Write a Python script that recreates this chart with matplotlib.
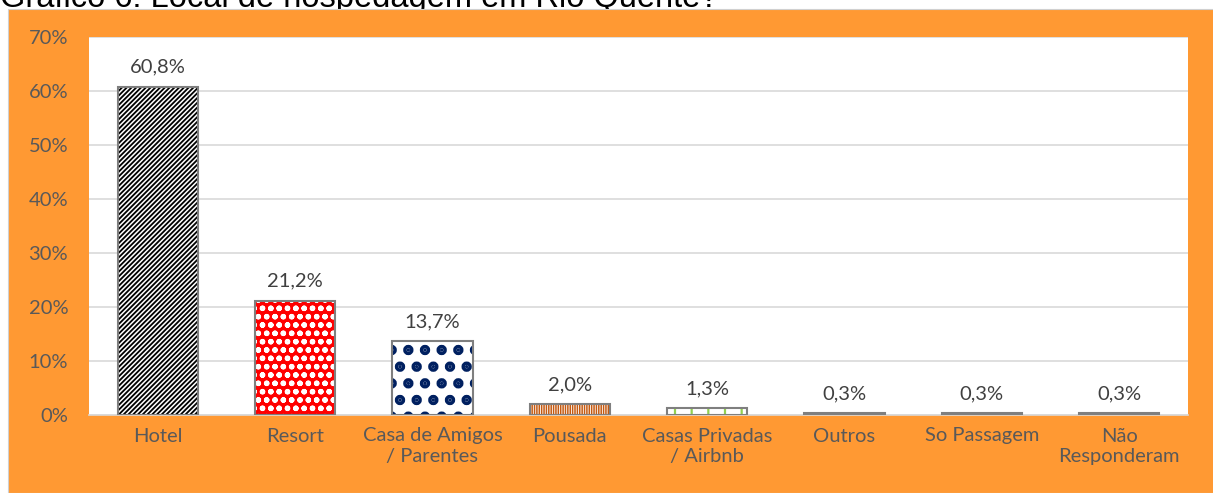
import matplotlib
matplotlib.use("Agg")
import matplotlib.pyplot as plt
from matplotlib.patches import Rectangle
from matplotlib.ticker import PercentFormatter, MultipleLocator

categories = ["Hotel", "Resort", "Casa de Amigos\n/ Parentes", "Pousada",
              "Casas Privadas\n/ Airbnb", "Outros", "So Passagem", "Não\nResponderam"]
values = [60.8, 21.2, 13.7, 2.0, 1.3, 0.3, 0.3, 0.3]
labels = ["60,8%", "21,2%", "13,7%", "2,0%", "1,3%", "0,3%", "0,3%", "0,3%"]
title = "Gráfico 6: Local de hospedagem em Rio Quente?"

faces = ["white", "#FF0000", "white", "white", "white", "#808080", "#808080", "#808080"]
hatch_cols = ["black", "white", "#002060", "#C55A11", "#92D050", "#808080", "#808080", "#808080"]
hatches = ["///////", "oo", ".", "|||||||", "|", None, None, None]
hatch_lw = [1.3, 1.6, 5.0, 1.1, 1.6, 1.0, 1.0, 1.0]

plt.rcParams['font.family'] = ['Lato', 'DejaVu Sans']
txt = "#595959"
fs = 14.5

fig = plt.figure(figsize=(12.13, 4.93), dpi=100)
fig.patch.set_facecolor("white")
orange = "#FF9933"
fig.patches.append(Rectangle((8/1213, 0), 1, 1 - 9/493, transform=fig.transFigure,
                             facecolor=orange, edgecolor="#d0d0d0", linewidth=0.8, zorder=1))
fig.text(0.0, 1 - 7/493, title, fontsize=23.5, family=['Liberation Sans'], color="black",
         va='baseline', ha='left', zorder=0.5)

ax = fig.add_axes([89/1213, 1 - 415/493, (1188-89)/1213, (415-37)/493])
ax.set_zorder(2)
ax.set_facecolor("white")
x = list(range(len(categories)))
width = 0.585
for i in x:
    with plt.rc_context({'hatch.linewidth': hatch_lw[i]}):
        bars = ax.bar(i, values[i], width=width, color=faces[i], hatch=hatches[i],
                      edgecolor=hatch_cols[i], linewidth=0, zorder=3)
    for b in bars:
        if hasattr(b, "set_hatch_linewidth"):
            b.set_hatch_linewidth(hatch_lw[i])
    ax.bar(i, values[i], width=width, fill=False, edgecolor="#7F7F7F", linewidth=1.5, zorder=4)
    ax.text(i, values[i] + 3.6, labels[i], ha='center', va='center', fontsize=fs, color="#404040")

ax.set_xlim(-0.5, len(categories) - 0.5)
ax.set_ylim(0, 70)
ax.yaxis.set_major_locator(MultipleLocator(10))
ax.yaxis.set_major_formatter(PercentFormatter(decimals=0))
ax.grid(axis='y', color="#D9D9D9", linewidth=1.2, zorder=0)
ax.set_axisbelow(True)
for s in ["top", "right", "left"]:
    ax.spines[s].set_visible(False)
ax.spines["bottom"].set_color("#D9D9D9")
ax.spines["bottom"].set_linewidth(1.2)
ax.set_xticks(x)
ax.set_xticklabels(categories, fontsize=fs, color=txt, linespacing=1.25)
ax.tick_params(axis='x', length=0, pad=9)
ax.tick_params(axis='y', length=0, pad=15, labelsize=fs, labelcolor=txt)
for lab in ax.get_xticklabels():
    lab.set_verticalalignment('top')

fig.savefig("out.png", dpi=100, facecolor=fig.get_facecolor())
